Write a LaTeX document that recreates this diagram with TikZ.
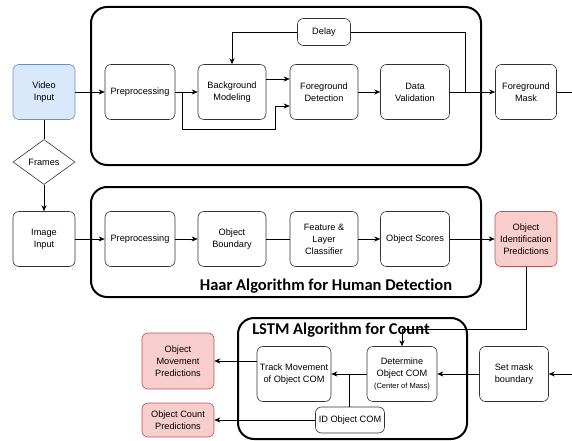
\documentclass[tikz,border=0pt]{standalone}
\usepackage{fontspec}
\setmainfont{Liberation Sans}
\newfontfamily\titlefont[Ligatures={NoCommon,NoDiscretionary}]{Carlito}
\usepackage{tikz}
\usetikzlibrary{shapes.geometric,arrows.meta}

\definecolor{inblue}{HTML}{DAE8FC}
\definecolor{inblueline}{HTML}{6C8EBF}
\definecolor{outpink}{HTML}{F8CECC}
\definecolor{outpinkline}{HTML}{B85450}
\newcommand{\boxfont}{\fontsize{9.2}{12}\selectfont}

\tikzset{
  stagebox/.style={draw=black!80, line width=0.6pt, rounded corners=6pt, align=center,
    minimum width=69pt, minimum height=55pt, inner sep=1pt, font=\boxfont},
  inputbox/.style={stagebox, fill=inblue, draw=inblueline, minimum width=62pt},
  outputbox/.style={stagebox, fill=outpink, draw=outpinkline, minimum width=62pt},
  groupbox/.style={draw=black, line width=2pt, rounded corners=16pt},
  grouplabel/.style={font=\titlefont\bfseries\fontsize{16.5}{18}\selectfont},
  flow/.style={line width=0.6pt, ->},
}

\begin{document}
\begin{tikzpicture}[x=1pt, y=-1pt, >={Stealth[length=6pt,width=5pt]}]
      \useasboundingbox (0, 0) rectangle (572, 441);
      % Groups
      \draw[groupbox] (91, 7) rectangle (481, 165);
      \draw[groupbox] (91, 187) rectangle (481, 297);
      \draw[groupbox] (238, 318) rectangle (467, 439);
      \node[grouplabel] (haarlabel) at (326, 286) {Haar Algorithm for Human Detect\kern0pt ion};
      \node[grouplabel] (lstmlabel) at (341, 330) {LSTM Algorithm for Count};

      % Video row
      \node[inputbox] (video) at (44, 92) {Video\\Input};
      \node[stagebox, minimum width=70pt] (pre1) at (140, 92) {Preprocessing};
      \node[stagebox, minimum width=68pt] (bgmodel) at (232, 92) {Background\\Modeling};
      \node[stagebox, minimum width=68pt] (fgdetect) at (324, 92) {Foreground\\Detection};
      \node[stagebox] (dataval) at (415, 92) {Data\\Validation};
      \node[stagebox, minimum width=61pt] (fgmask) at (526, 92) {Foreground\\Mask};
      \node[stagebox, minimum width=53pt, minimum height=27pt] (delay) at (324, 32) {Delay};
      \coordinate (pre1split) at (182, 92);
      \coordinate (pre1low) at (275, 129);
      \coordinate (valsplit) at (465, 92);
      \coordinate (maskout) at (572, 92);
      \draw[flow] (video) -- (pre1);
      \draw[flow] (pre1) -- (bgmodel);
      \draw[flow] ([yshift=13pt]bgmodel.east) -- ([yshift=13pt]fgdetect.west);
      \draw[flow] (pre1split) |- (pre1low) |- ([yshift=-14pt]fgdetect.west);
      \draw[flow] (fgdetect) -- (dataval);
      \draw[flow] (dataval) -- (fgmask);
      \draw[line width=0.6pt] (valsplit) |- (delay.east);
      \draw[flow] (delay.west) -| (bgmodel.north);
      \draw[line width=0.6pt] (fgmask) -- (maskout);

      % Frames
      \node[diamond, draw=black!80, line width=0.6pt, minimum width=62pt, minimum height=45pt,
        inner sep=0pt, font=\boxfont] (frames) at (44, 162) {Frames};
      \draw[line width=0.6pt] (video) -- (frames);

      % Image row
      \node[stagebox, minimum width=62pt] (image) at (44, 239) {Image\\Input};
      \node[stagebox, minimum width=70pt] (pre2) at (140, 239) {Preprocessing};
      \node[stagebox, minimum width=68pt] (objbound) at (232, 239) {Object\\Boundary};
      \node[stagebox, minimum width=68pt] (feature) at (324, 239) {Feature \&\\Layer\\Classifier};
      \node[stagebox] (scores) at (415, 239) {Object Scores};
      \node[outputbox] (objident) at (526, 239) {Object\\Identification\\Predictions};
      \draw[flow] (frames) -- (image);
      \draw[flow] (image) -- (pre2);
      \draw[flow] (pre2) -- (objbound);
      \draw[line width=0.6pt] (objbound) -- (feature);
      \draw[flow] (feature) -- (scores);
      \draw[flow] (scores) -- (objident);

      % Count row
      \node[stagebox, minimum width=74pt] (track) at (294, 374) {Track Movement\\of Object COM};
      \node[stagebox, minimum width=70pt] (determine) at (402, 374)
        {Determine\\Object COM\\{\fontsize{7.5}{9}\selectfont (Center of Mass)}};
      \node[stagebox, minimum height=26pt] (idcom) at (350, 420) {ID Object COM};
      \node[stagebox] (setmask) at (514, 374) {Set mask\\boundary};
      \node[outputbox, minimum width=72pt, minimum height=56pt] (movepred) at (178, 361)
        {Object\\Movement\\Predictions};
      \node[outputbox, minimum width=72pt, minimum height=34pt] (countpred) at (178, 420)
        {Object Count\\Predictions};
      \coordinate (identlow) at (526, 329);
      \coordinate (maskin) at (572, 374);
      \coordinate (comsplit) at (349, 374);
      \draw[flow] (objident) -- (identlow) -| (determine.north);
      \draw[flow] (maskin) -- (setmask);
      \draw[flow] (setmask) -- (determine);
      \draw[flow] (determine) -- (track);
      \draw[line width=0.6pt] (comsplit) -- (comsplit |- idcom.north);
      \draw[flow] (track.west |- movepred.east) -- (movepred.east);
      \draw[flow] (idcom) -- (countpred);
    \end{tikzpicture}
\end{document}
